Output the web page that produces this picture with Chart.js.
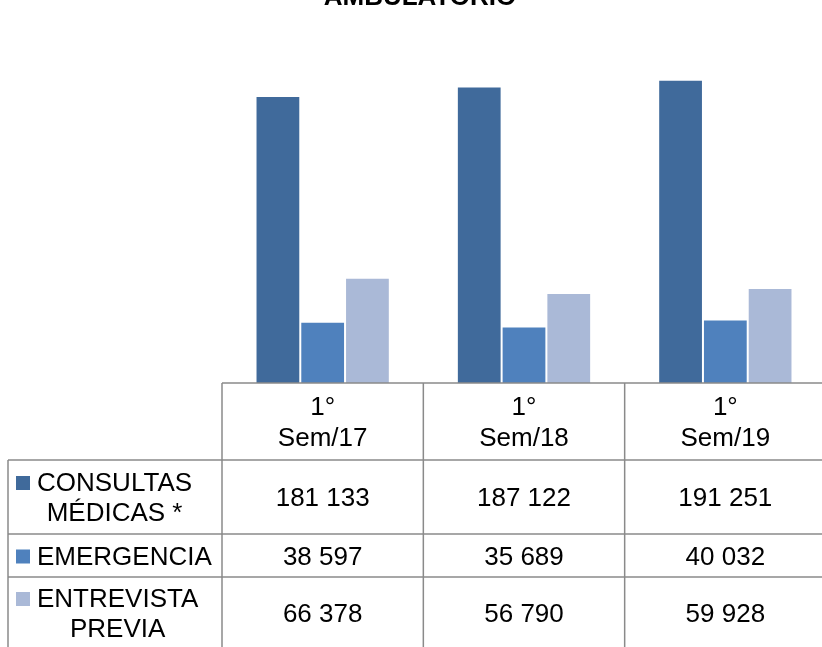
<!DOCTYPE html>
<html>
<head>
    <title>Ambulatorio</title>
    <script src="https://cdn.jsdelivr.net/npm/chart.js"></script>
    <style>
        html, body {
            margin: 0;
            padding: 0;
            overflow: hidden;
            background: #ffffff;
        }
        canvas {
            display: block;
        }
    </style>
</head>
<body>
    <canvas id="ambulatorio" width="828" height="647"></canvas>

    <script>
    const title = 'AMBULATORIO';
    const categories = [['1°', 'Sem/17'], ['1°', 'Sem/18'], ['1°', 'Sem/19']];
    const seriesNames = [['CONSULTAS', 'MÉDICAS *'], ['EMERGENCIA'], ['ENTREVISTA', 'PREVIA']];
    const consultas = [181133, 187122, 191251];
    const emergencia = [38597, 35689, 40032];
    const entrevista = [66378, 56790, 59928];
    const colors = ['#406A9B', '#4F81BD', '#AAB9D7'];

    const font = "'Liberation Sans', Arial, sans-serif";
    const gridColor = '#8a8a8a';

    function fmt(v) {
        return v.toString().replace(/\B(?=(\d{3})+(?!\d))/g, ' ');
    }

    // data table under the bars, like the office chart
    const dataTable = {
        id: 'dataTable',
        afterDraw(chart) {
            const ctx = chart.ctx;
            const area = chart.chartArea;
            const x = chart.scales.x;
            const colW = (area.right - area.left) / categories.length;
            const tableLeft = 8;
            const headerBottom = 460;
            const rows = [[460, 534], [534, 577], [577, 649]];
            const dy = 2;  // text sits a bit low in the original

            ctx.save();

            // title (mostly above the page)
            ctx.fillStyle = '#000';
            ctx.font = 'bold 26px ' + font;
            ctx.textAlign = 'center';
            ctx.textBaseline = 'alphabetic';
            ctx.fillText(title, 420, 5);

            // lines
            ctx.strokeStyle = gridColor;
            ctx.lineWidth = 1.5;
            ctx.beginPath();
            ctx.moveTo(area.left, area.bottom);
            ctx.lineTo(chart.width, area.bottom);
            for (let i = 0; i <= categories.length; i++) {
                let lx = area.left + i * colW;
                ctx.moveTo(lx, area.bottom);
                ctx.lineTo(lx, chart.height);
            }
            ctx.moveTo(tableLeft, headerBottom);
            ctx.lineTo(tableLeft, chart.height);
            rows.forEach(r => {
                ctx.moveTo(tableLeft, r[0]);
                ctx.lineTo(chart.width, r[0]);
            });
            ctx.stroke();

            ctx.fillStyle = '#000';
            ctx.font = '26px ' + font;
            ctx.textBaseline = 'middle';
            ctx.textAlign = 'center';

            // header
            const headerMid = (area.bottom + headerBottom) / 2 + dy;
            categories.forEach((lines, i) => {
                let cx = x.getPixelForValue(i);
                lines.forEach((t, j) => {
                    ctx.fillText(t, cx, headerMid + (j - (lines.length - 1) / 2) * 31);
                });
            });

            // rows
            chart.data.datasets.forEach((ds, k) => {
                const mid = (rows[k][0] + rows[k][1]) / 2 + dy;
                ds.data.forEach((v, i) => {
                    ctx.fillText(fmt(v), x.getPixelForValue(i), mid);
                });

                const lines = seriesNames[k];
                let maxW = 0;
                lines.forEach(t => { maxW = Math.max(maxW, ctx.measureText(t).width); });
                const firstY = mid - (lines.length - 1) / 2 * 30;
                lines.forEach((t, j) => {
                    ctx.fillText(t, 37 + maxW / 2, firstY + j * 30);
                });
                ctx.fillStyle = colors[k];
                ctx.fillRect(16, firstY - 8, 14, 14);
                ctx.fillStyle = '#000';
            });

            ctx.restore();
        }
    };

    new Chart(document.getElementById('ambulatorio'), {
        type: 'bar',
        data: {
            labels: categories,
            datasets: [
                { label: 'CONSULTAS MÉDICAS *', data: consultas, backgroundColor: colors[0] },
                { label: 'EMERGENCIA', data: emergencia, backgroundColor: colors[1] },
                { label: 'ENTREVISTA PREVIA', data: entrevista, backgroundColor: colors[2] }
            ]
        },
        options: {
            responsive: false,
            animation: false,
            datasets: {
                bar: {
                    categoryPercentage: 0.667,
                    barPercentage: 1,
                    borderWidth: 1,
                    borderColor: 'rgba(255,255,255,0.6)'
                }
            },
            layout: {
                padding: { left: 222, right: 2, top: 66, bottom: 264 }
            },
            plugins: {
                legend: { display: false },
                title: { display: false },
                tooltip: { enabled: false }
            },
            scales: {
                x: { display: false },
                y: { display: false, min: 0, max: 200000 }
            }
        },
        plugins: [dataTable]
    });
    </script>
</body>
</html>
